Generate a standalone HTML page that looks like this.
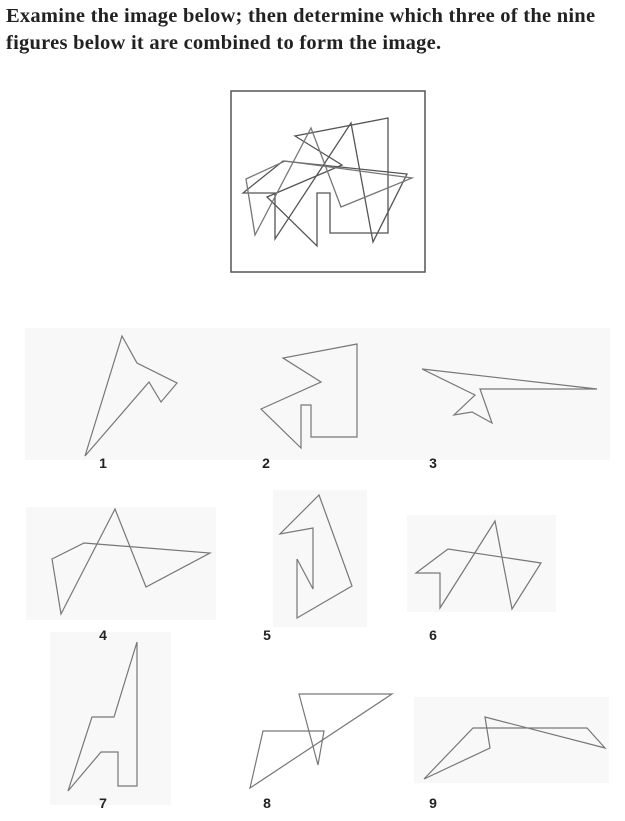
<!DOCTYPE html>
<html><head><meta charset="utf-8"><style>
html,body{margin:0;padding:0;background:#fff}
body{width:625px;height:821px;position:relative;overflow:hidden}
.q{position:absolute;left:6px;top:3px;font-family:"Liberation Serif",serif;font-weight:bold;font-size:20.5px;letter-spacing:0.25px;line-height:27px;color:#222;white-space:nowrap}
svg{position:absolute;left:0;top:0}
</style></head><body>
<div class="q">Examine the image below; then determine which three of the nine<br>figures below it are combined to form the image.</div>
<svg width="625" height="821" font-family="Liberation Sans, sans-serif" font-weight="bold" font-size="14" fill="#222">
<g fill="#f8f8f8" stroke="none">
<rect x="25" y="328" width="585" height="132"/>
<rect x="26" y="507" width="190" height="113"/>
<rect x="273" y="490" width="94" height="137"/>
<rect x="407" y="515" width="149" height="97"/>
<rect x="50" y="632" width="121" height="173"/>
<rect x="414" y="697" width="195" height="86"/>
</g>
<g>
<rect x="231" y="91" width="194" height="181" fill="#fff" stroke="#555" stroke-width="1.5"/>
<g fill="none" stroke="#555" stroke-width="1.3">
<polygon points="388,118 295,136 342,165 267,197 317,246 317,193 330,193 330,233 388,233"/>
<polygon points="243,193 283,161 407,174 373,242 351,123 275,239 275,193"/>
<polygon stroke="#777" points="246,179 285,161 412,178 341,207 311,128 255,235"/>
</g>
</g>
<g fill="none" stroke="#777" stroke-width="1.2">
<polygon points="122,336 137,363 177,383 161,402 149,382 85,456"/>
<polygon points="357,344 283,358 321,382 261,409 301,448 301,405 311,405 311,437 357,437"/>
<polygon points="422,369 597,389 480,389 492,423 472,412 454,415 475,395"/>
<polygon points="52,559 84,543 210,553 146,587 115,509 61,614"/>
<polygon points="319,495 352,586 297,618 297,559 313,589 313,528 280,534"/>
<polygon points="416,573 448,549 541,563 512,609 495,521 440,608 440,573"/>
<polygon points="137,642 137,786 118,786 118,752 101,752 68,791 92,717 114,717"/>
<polygon points="299,694 392,694 250,788 263,731 324,731 318,765"/>
<polygon points="485,717 605,748 587,728 473,728 424,779 490,748"/>
</g>
<g text-anchor="middle">
<text x="103" y="468">1</text>
<text x="266" y="468">2</text>
<text x="433" y="468">3</text>
<text x="103" y="640">4</text>
<text x="267" y="640">5</text>
<text x="433" y="640">6</text>
<text x="103" y="808">7</text>
<text x="267" y="808">8</text>
<text x="433" y="808">9</text>
</g>
</svg>
</body></html>
